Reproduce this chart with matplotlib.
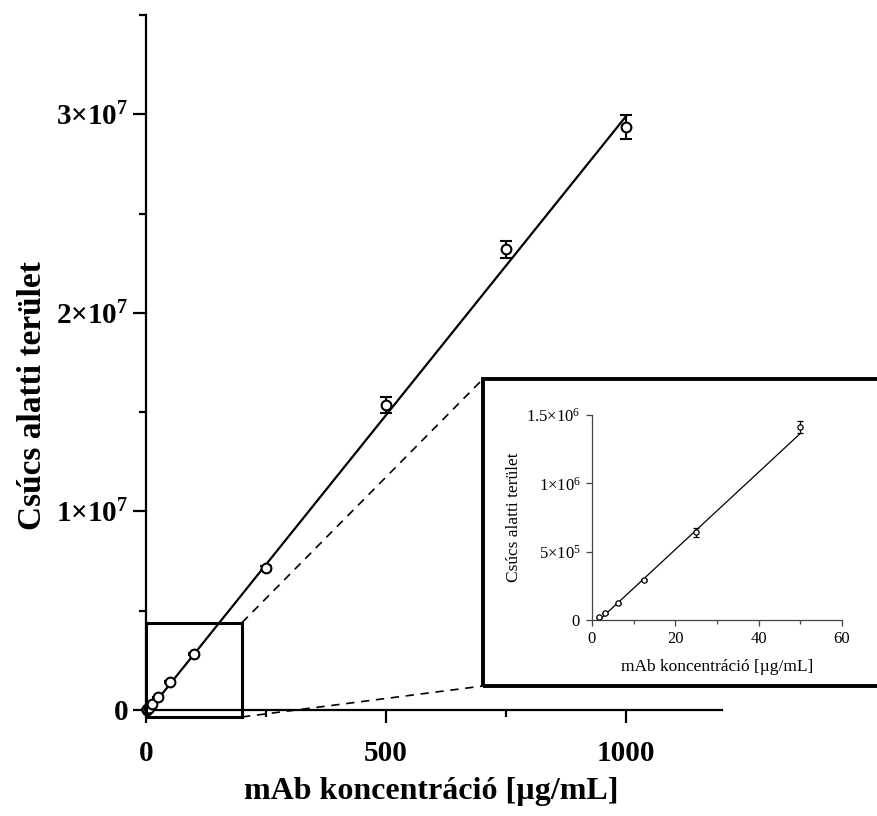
import matplotlib
matplotlib.use("Agg")
import matplotlib.pyplot as plt
import matplotlib.patches as patches
from matplotlib.ticker import FixedLocator, MultipleLocator
import numpy as np

plt.rcParams['font.family'] = ['Liberation Serif', 'DejaVu Serif']
plt.rcParams['mathtext.fontset'] = 'custom'
plt.rcParams['mathtext.rm'] = 'Liberation Serif'
plt.rcParams['mathtext.bf'] = 'Liberation Serif:bold'

# calibration data (mAb concentration vs peak area)
conc = [1.5625, 3.125, 6.25, 12.5, 25, 50, 100, 250, 500, 750, 1000]
area = [2.0e4, 4.9e4, 1.22e5, 2.93e5, 6.41e5, 1.41e6, 2.83e6, 7.17e6, 1.535e7, 2.32e7, 2.935e7]
area_sd = [3e3, 4e3, 6e3, 1.0e4, 3.3e4, 4.3e4, 6e4, 1.0e5, 4.0e5, 4.3e5, 6.0e5]

# linear fits: full range and low range
fit_slope, fit_icpt = 3.01e4, -2.0e5
low_slope, low_icpt = 2.83e4, -5.0e4
low_max = 50

main_yticks = [0, 1e7, 2e7, 3e7]
main_ylabels = [r'$\mathbf{0}$', r'$\mathbf{1{\times}10^{7}}$',
                r'$\mathbf{2{\times}10^{7}}$', r'$\mathbf{3{\times}10^{7}}$']
ins_yticks = [0, 5e5, 1e6, 1.5e6]
ins_ylabels = [r'$\mathrm{0}$', r'$\mathrm{5{\times}10^{5}}$',
               r'$\mathrm{1{\times}10^{6}}$', r'$\mathrm{1.5{\times}10^{6}}$']

W, H = 878, 816
fig = plt.figure(figsize=(W/100, H/100), dpi=100)

def fx(px):
    return px/W

def fy(py):
    return 1-py/H

# main axes
ax = fig.add_axes([fx(146), fy(710), fx(722)-fx(146), fy(15)-fy(710)])
ax.set_xlim(0, 1200)
ax.set_ylim(0, 3.5e7)
for s in ['top', 'right']:
    ax.spines[s].set_visible(False)
for s in ['left', 'bottom']:
    ax.spines[s].set_linewidth(1.6)

xl = np.array([conc[0], conc[-1]])
ax.plot(xl, fit_slope*xl+fit_icpt, color='black', lw=1.6, clip_on=False, zorder=2)
ax.errorbar(conc, area, yerr=area_sd, fmt='o', mfc='white', mec='black', mew=1.5,
            ms=7, ecolor='black', elinewidth=1.5, capsize=4, capthick=1.5,
            clip_on=False, zorder=3)

ax.xaxis.set_major_locator(FixedLocator([0, 500, 1000]))
ax.xaxis.set_minor_locator(FixedLocator([250, 750]))
ax.yaxis.set_major_locator(FixedLocator(main_yticks))
ax.yaxis.set_minor_locator(MultipleLocator(5e6))
ax.set_yticklabels(main_ylabels)
ax.set_xticklabels(['0', '500', '1000'])
ax.tick_params(which='major', length=9.5, width=1.6, labelsize=21)
ax.tick_params(axis='x', which='major', pad=12)
ax.tick_params(axis='y', which='major', pad=3)
ax.tick_params(which='minor', length=5, width=1.6)
for t in ax.get_xticklabels():
    t.set_fontweight('bold')

ax.set_xlabel('mAb koncentráció [µg/mL]', fontsize=23, fontweight='bold', va='top')
ax.set_ylabel('Csúcs alatti terület', fontsize=24, fontweight='bold')
ax.xaxis.set_label_coords(0.496, -0.097)
ax.yaxis.set_label_coords(-0.17, 0.453)

# zoom region on the main plot
zx0, zx1, zy0, zy1 = 0, 200, -3.5e5, 4.4e6
ax.add_patch(patches.Rectangle((zx0, zy0), zx1-zx0, zy1-zy0, fill=False,
                               lw=2.2, edgecolor='black', clip_on=False, zorder=4))

# inset frame
bl, bb, bt = fx(483), fy(686), fy(379)
fig.add_artist(patches.Rectangle((bl, bb), 1.05-bl, bt-bb, transform=fig.transFigure,
                                 fill=False, lw=2.8, edgecolor='black'))

# dashed connectors
for (dx, dy), (gx, gy) in [((zx1, zy1), (bl, bt)), ((zx1, zy0), (bl, bb))]:
    p = fig.transFigure.inverted().transform(ax.transData.transform((dx, dy)))
    fig.add_artist(plt.Line2D([p[0], gx], [p[1], gy], transform=fig.transFigure,
                              color='black', lw=1.2, ls=(0, (5, 4))))

# inset axes
ia = fig.add_axes([fx(592), fy(620), fx(842)-fx(592), fy(415)-fy(620)])
ia.set_xlim(0, 60)
ia.set_ylim(0, 1.5e6)
for s in ['top', 'right']:
    ia.spines[s].set_visible(False)
for s in ['left', 'bottom']:
    ia.spines[s].set_linewidth(0.9)
    ia.spines[s].set_color('#444444')

sel = [i for i, c in enumerate(conc) if c <= low_max]
ix = np.array([conc[0], low_max])
ia.plot(ix, low_slope*ix+low_icpt, color='black', lw=0.9, zorder=2)
ia.errorbar([conc[i] for i in sel], [area[i] for i in sel], yerr=[area_sd[i] for i in sel],
            fmt='o', mfc='white', mec='black', mew=0.9, ms=3.8, ecolor='black',
            elinewidth=0.9, capsize=2.2, capthick=0.9, clip_on=False, zorder=3)

ia.xaxis.set_major_locator(FixedLocator([0, 20, 40, 60]))
ia.xaxis.set_minor_locator(FixedLocator([10, 30, 50]))
ia.yaxis.set_major_locator(FixedLocator(ins_yticks))
ia.set_yticklabels(ins_ylabels)
ia.tick_params(which='major', length=4, width=0.9, color='#444444', labelsize=12, pad=4)
ia.tick_params(which='minor', length=3, width=0.9, color='#444444')
ia.set_xlabel('mAb koncentráció [µg/mL]', fontsize=12.5)
ia.set_ylabel('Csúcs alatti terület', fontsize=12.5)
ia.xaxis.set_label_coords(0.5, -0.19)
ia.yaxis.set_label_coords(-0.28, 0.5)

fig.savefig('out.png', dpi=100)
